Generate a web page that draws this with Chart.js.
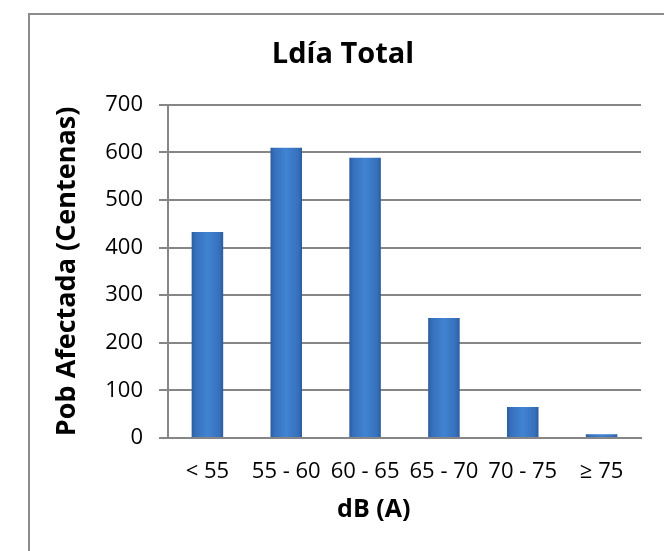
<!DOCTYPE html>
<html>
<head>
<meta charset="utf-8">
<script src="https://cdn.jsdelivr.net/npm/chart.js@4.4.0/dist/chart.umd.min.js"></script>
<style>
  html, body { margin: 0; padding: 0; background: #fff; overflow: hidden; }
  #frame { position: absolute; left: 28px; top: 13px; width: 700px; height: 600px; border: 2px solid #8c8c8c; }
  #wrap { position: absolute; left: 0; top: 0; width: 664px; height: 551px; }
</style>
</head>
<body>
<div id="frame"></div>
<div id="wrap"><canvas id="chart" width="664" height="551"></canvas></div>
<script>
const categories = ['< 55', '55 - 60', '60 - 65', '65 - 70', '70 - 75', '≥ 75'];
const poblacion = [433, 610, 589, 252, 65, 8];
const yTicks = [0, 100, 200, 300, 400, 500, 600, 700];

const FONT = '"Open Sans", "Liberation Sans", sans-serif';

// horizontal gradient across each bar, built from the x scale
function barFill(ctx) {
  const chart = ctx.chart;
  const xs = chart.scales.x;
  if (!xs || ctx.dataIndex === undefined) return '#3a78c6';
  const cx = xs.getPixelForValue(ctx.dataIndex);
  const w = xs.width / categories.length * 0.4;
  if (!isFinite(cx) || !isFinite(w) || w <= 0) return '#3a78c6';
  const g = chart.ctx.createLinearGradient(cx - w / 2, 0, cx + w / 2, 0);
  g.addColorStop(0, '#2b5c9e');
  g.addColorStop(0.12, '#3670bb');
  g.addColorStop(0.5, '#4183d3');
  g.addColorStop(0.88, '#3670bb');
  g.addColorStop(1, '#2b5c9e');
  return g;
}

// x axis title sits left of centre in the original
const xTitle = {
  id: 'xTitle',
  afterDraw(chart) {
    const c = chart.ctx, a = chart.chartArea;
    c.save();
    c.font = 'bold 25px ' + FONT;
    c.fillStyle = '#000';
    c.textAlign = 'center';
    c.textBaseline = 'middle';
    c.fillText('dB (A)', a.left + (a.right - a.left) * 0.435, a.bottom + 72);
    c.restore();
  }
};

new Chart(document.getElementById('chart'), {
  type: 'bar',
  data: {
    labels: categories,
    datasets: [{
      data: poblacion,
      backgroundColor: barFill,
      borderWidth: 0,
      categoryPercentage: 1,
      barPercentage: 0.4
    }]
  },
  plugins: [xTitle],
  options: {
    responsive: false,
    animation: false,
    devicePixelRatio: 1,
    layout: { padding: { left: 45, right: 23, top: 0, bottom: 53 } },
    plugins: {
      legend: { display: false },
      tooltip: { enabled: false },
      title: {
        display: true,
        text: 'Ldía Total',
        color: '#000',
        font: { family: FONT, size: 29, weight: 'bold' },
        padding: { top: 37, bottom: 33 }
      }
    },
    scales: {
      x: {
        afterFit(scale) { scale.height = 60; },
        grid: { display: false, drawTicks: false },
        border: { display: true, color: '#868686', width: 2 },
        ticks: { color: '#000', font: { family: FONT, size: 22 }, padding: 21, maxRotation: 0, autoSkip: false }
      },
      y: {
        min: 0,
        max: 700,
        afterFit(scale) { scale.width = 123; },
        afterBuildTicks(scale) { scale.ticks = yTicks.map(v => ({ value: v })); },
        grid: { color: '#868686', lineWidth: 2, tickLength: 9, drawTicks: true },
        border: { display: true, color: '#868686', width: 2 },
        ticks: { color: '#000', font: { family: FONT, size: 22 }, padding: 16 },
        title: {
          display: true,
          text: 'Pob Afectada (Centenas)',
          color: '#000',
          font: { family: FONT, size: 27, weight: 'bold' },
          padding: { top: 6, bottom: 0 }
        }
      }
    }
  }
});
</script>
</body>
</html>
